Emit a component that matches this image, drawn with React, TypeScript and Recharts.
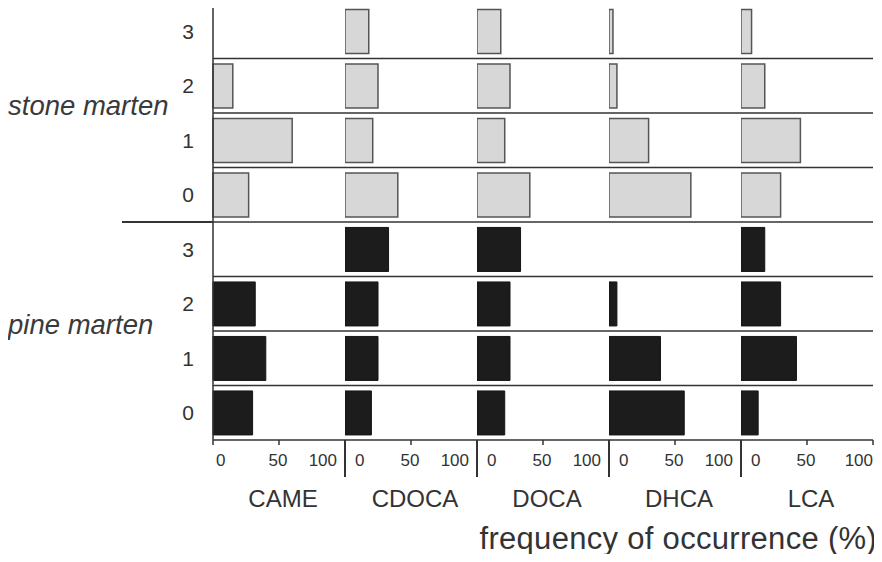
import { BarChart, Bar, XAxis, YAxis, ReferenceLine } from 'recharts';

const rowKeys = ['s3', 's2', 's1', 's0', 'p3', 'p2', 'p1', 'p0'];
const rowLabels = ['3', '2', '1', '0', '3', '2', '1', '0'];
const acids = ['CAME', 'CDOCA', 'DOCA', 'DHCA', 'LCA'];
const xTicks = [0, 50, 100];

// frequency of occurrence (%), rows 3,2,1,0
const stoneCame = [0, 15, 60, 27];
const stoneCdoca = [18, 25, 21, 40];
const stoneDoca = [18, 25, 21, 40];
const stoneDhca = [3, 6, 30, 62];
const stoneLca = [8, 18, 45, 30];

const pineCame = [0, 32, 40, 30];
const pineCdoca = [33, 25, 25, 20];
const pineDoca = [33, 25, 25, 21];
const pineDhca = [0, 6, 39, 57];
const pineLca = [18, 30, 42, 13];

const stoneByAcid = [stoneCame, stoneCdoca, stoneDoca, stoneDhca, stoneLca];
const pineByAcid = [pineCame, pineCdoca, pineDoca, pineDhca, pineLca];

const FONT = '"Liberation Sans", Arial, sans-serif';
const INK = '#333';
const LEFT = 213;
const PANEL_W = 132;
const PLOT_TOP = 4;
const PLOT_H = 436;
const AXIS_H = 80;

function buildRows(stone: number[], pine: number[]) {
  return rowKeys.map((row, i) => ({
    row,
    stone: i < 4 ? stone[i] : 0,
    pine: i < 4 ? 0 : pine[i - 4],
  }));
}

function XTick(props: any) {
  const { x, y, payload, idx } = props;
  const v = payload.value;
  let anchor: 'start' | 'middle' | 'end' = 'middle';
  let dx = -1;
  if (v === 0) {
    anchor = 'start';
    dx = idx === 0 ? 3 : 10;
  }
  if (v === 100) {
    anchor = 'end';
    dx = idx === acids.length - 1 ? 0 : -8;
  }
  return (
    <text x={x + dx} y={y} dy="0.71em" textAnchor={anchor} fontSize={17} fill={INK} fontFamily={FONT}>
      {v}
    </text>
  );
}

function Panel({ idx }: { idx: number }) {
  const first = idx === 0;
  const yw = first ? LEFT : 0;
  const data = buildRows(stoneByAcid[idx], pineByAcid[idx]);
  return (
    <div style={{ position: 'absolute', top: 0, left: first ? 0 : LEFT + PANEL_W * idx }}>
      <BarChart
        width={yw + PANEL_W + 2}
        height={PLOT_TOP + PLOT_H + AXIS_H}
        data={data}
        layout="vertical"
        margin={{ top: PLOT_TOP, right: 2, bottom: 0, left: 0 }}
        barCategoryGap="10%"
      >
        <XAxis
          type="number"
          domain={[0, 100]}
          ticks={xTicks}
          interval={0}
          height={AXIS_H}
          stroke={INK}
          strokeWidth={1.5}
          tickSize={5}
          tickMargin={9}
          tick={(p: any) => <XTick {...p} idx={idx} />}
          label={{ value: acids[idx], position: 'insideBottom', offset: 13, dx: 4, fontSize: 24, fill: INK, fontFamily: FONT }}
        />
        <YAxis
          type="category"
          dataKey="row"
          width={yw}
          stroke={INK}
          strokeWidth={1.5}
          tickLine={false}
          tickMargin={13}
          interval={0}
          tick={first ? { fontSize: 21, fill: INK, fontFamily: FONT } : false}
          tickFormatter={(v: string) => rowLabels[rowKeys.indexOf(v)]}
        />
        {rowKeys.map((k) => (
          <ReferenceLine key={k} y={k} position="start" stroke={INK} strokeWidth={1.5} />
        ))}
        <Bar dataKey="stone" stackId="a" fill="#d7d7d7" stroke="#555" strokeWidth={1.5} isAnimationActive={false} />
        <Bar dataKey="pine" stackId="a" fill="#1c1c1c" stroke="#151515" strokeWidth={1} isAnimationActive={false} />
      </BarChart>
    </div>
  );
}

export default function App() {
  return (
    <div
      style={{
        position: 'relative',
        width: 882,
        height: 562,
        margin: -8,
        background: '#fff',
        fontFamily: FONT,
        color: INK,
        overflow: 'hidden',
      }}
    >
      {acids.map((a, i) => (
        <Panel key={a} idx={i} />
      ))}
      {/* separator between species, reaching into the label column */}
      <div style={{ position: 'absolute', left: 122, top: 221, width: LEFT - 122, height: 1.5, background: INK }} />
      {/* panel dividers continue below the x axis */}
      {acids.slice(1).map((a, i) => (
        <div
          key={a}
          style={{ position: 'absolute', left: LEFT + PANEL_W * (i + 1) - 0.75, top: 440, width: 1.5, height: 37, background: INK }}
        />
      ))}
      <div style={{ position: 'absolute', left: 8, top: 92, fontSize: 27.5, lineHeight: '27px', fontStyle: 'italic', color: '#3a3a3a' }}>
        stone marten
      </div>
      <div style={{ position: 'absolute', left: 8, top: 311, fontSize: 27.5, lineHeight: '27px', fontStyle: 'italic', color: '#3a3a3a' }}>
        pine marten
      </div>
      <div
        style={{
          position: 'absolute',
          right: 5,
          top: 523,
          fontSize: 31,
          lineHeight: '31px',
          letterSpacing: 0.3,
          whiteSpace: 'nowrap',
        }}
      >
        frequency of occurrence (%)
      </div>
    </div>
  );
}
